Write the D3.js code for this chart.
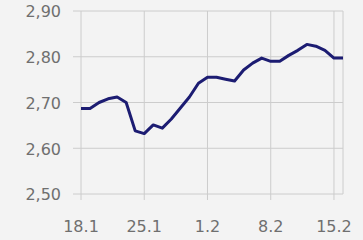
<!DOCTYPE html>
<html>
<head>
<meta charset="utf-8">
<script src="https://cdn.jsdelivr.net/npm/d3@7"></script>
<style>
    html, body { margin: 0; padding: 0; background: #f3f3f3; }
    svg { display: block; }
</style>
</head>
<body>
<svg id="Chart"></svg>
<script>
    // daily series, 18.1 .. 16.2
    let days = ["18.1", "19.1", "20.1", "21.1", "22.1", "23.1", "24.1", "25.1", "26.1", "27.1",
        "28.1", "29.1", "30.1", "31.1", "1.2", "2.2", "3.2", "4.2", "5.2", "6.2",
        "7.2", "8.2", "9.2", "10.2", "11.2", "12.2", "13.2", "14.2", "15.2", "16.2"]
    let values = [2.687, 2.687, 2.700, 2.708, 2.712, 2.700, 2.638, 2.632, 2.651, 2.644,
        2.664, 2.688, 2.712, 2.742, 2.755, 2.755, 2.751, 2.747, 2.771, 2.786,
        2.797, 2.790, 2.790, 2.803, 2.814, 2.827, 2.823, 2.814, 2.797, 2.797]
    let xTicks = ["18.1", "25.1", "1.2", "8.2", "15.2"]
    let yTicks = [2.5, 2.6, 2.7, 2.8, 2.9]

    function getConfig() {
        let width = 363;
        let height = 240;
        let margin = {top: 11, bottom: 46, left: 81, right: 20}
        let bodyWidth = width - margin.left - margin.right
        let bodyHeight = height - margin.top - margin.bottom
        let container = d3.select("#Chart")
            .attr("width", width)
            .attr("height", height)
        return {width, height, margin, bodyWidth, bodyHeight, container}
    }

    function getScales(config) {
        let xScale = d3.scalePoint()
            .domain(days)
            .range([0, config.bodyWidth])
        let yScale = d3.scaleLinear()
            .domain([2.5, 2.9])
            .range([config.bodyHeight, 0])
        return {xScale, yScale}
    }

    function drawGrid(scales, config) {
        let {xScale, yScale} = scales
        let {container, margin, bodyWidth, bodyHeight} = config
        let body = container.append("g")
            .attr("transform", `translate(${margin.left},${margin.top})`)

        body.selectAll(".hgrid")
            .data(yTicks)
            .enter()
            .append("line")
            .attr("x1", -8)
            .attr("x2", bodyWidth)
            .attr("y1", d => yScale(d))
            .attr("y2", d => yScale(d))
            .attr("stroke", "#cccccc")

        body.selectAll(".vgrid")
            .data(xTicks)
            .enter()
            .append("line")
            .attr("x1", d => xScale(d))
            .attr("x2", d => xScale(d))
            .attr("y1", 0)
            .attr("y2", bodyHeight + 6)
            .attr("stroke", "#cccccc")

        // right border
        body.append("line")
            .attr("x1", bodyWidth).attr("x2", bodyWidth)
            .attr("y1", 0).attr("y2", bodyHeight)
            .attr("stroke", "#cccccc")
    }

    function drawLabels(scales, config) {
        let {xScale, yScale} = scales
        let {container, margin, bodyHeight} = config
        let body = container.append("g")
            .attr("transform", `translate(${margin.left},${margin.top})`)
            .style("font-family", "DejaVu Sans, sans-serif")
            .style("font-size", "16px")
            .attr("fill", "#6f6f6f")

        body.selectAll(".ylab")
            .data(yTicks)
            .enter()
            .append("text")
            .attr("x", -20)
            .attr("y", d => yScale(d))
            .attr("dy", "0.4em")
            .attr("text-anchor", "end")
            .text(d => d3.format(".2f")(d).replace(".", ","))

        body.selectAll(".xlab")
            .data(xTicks)
            .enter()
            .append("text")
            .attr("x", d => xScale(d))
            .attr("y", bodyHeight + 38)
            .attr("text-anchor", "middle")
            .text(d => d)
    }

    function drawLine(scales, config) {
        let {xScale, yScale} = scales
        let {container, margin} = config
        let line = d3.line()
            .x((d, i) => xScale(days[i]))
            .y(d => yScale(d))
        container.append("path")
            .attr("transform", `translate(${margin.left},${margin.top})`)
            .attr("d", line(values))
            .attr("fill", "none")
            .attr("stroke", "#1c1c72")
            .attr("stroke-width", 3)
            .attr("stroke-linejoin", "round")
    }

    let config = getConfig()
    let scales = getScales(config)
    drawGrid(scales, config)
    drawLabels(scales, config)
    drawLine(scales, config)
</script>
</body>
</html>
